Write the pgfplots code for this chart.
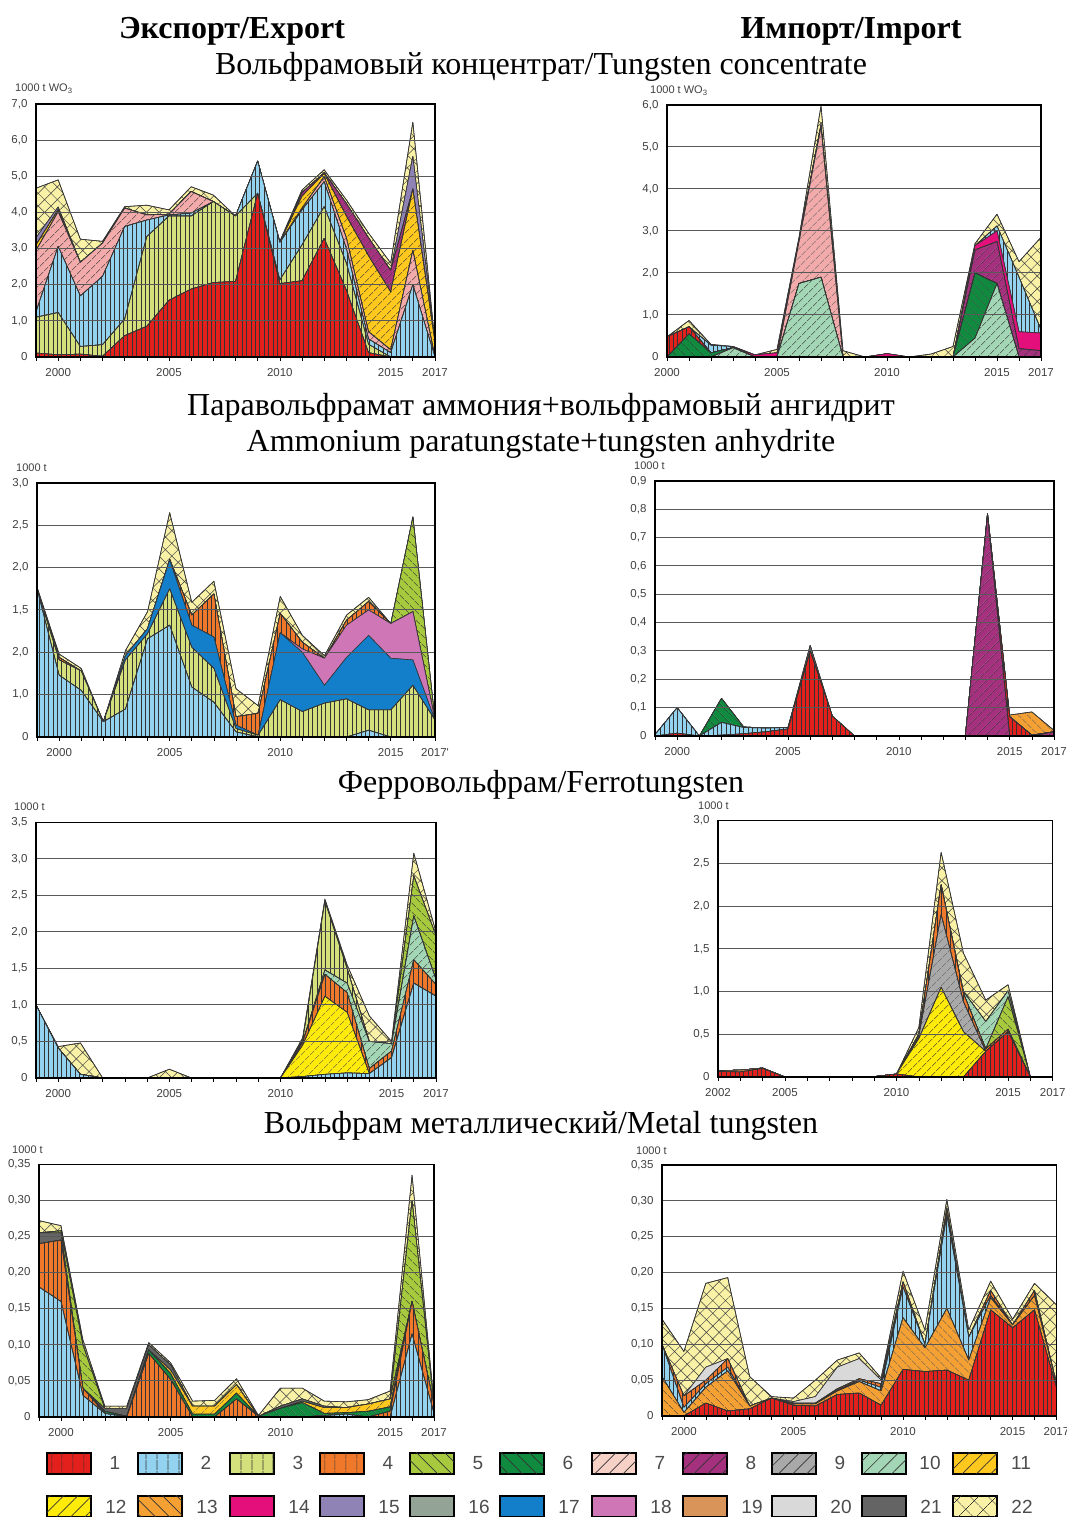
\documentclass[border=0pt]{standalone}
\usepackage{fontspec}
\setmainfont{Liberation Serif}
\newfontfamily\lsans{Liberation Sans}
\usepackage{pgfplots}
\pgfplotsset{compat=1.18}
\usepackage{pgfplotstable}
\usetikzlibrary{patterns.meta}

\definecolor{c1}{HTML}{E3201B}
\definecolor{c2}{HTML}{94D3F0}
\definecolor{c3}{HTML}{D4E07C}
\definecolor{c4}{HTML}{F0782A}
\definecolor{c5}{HTML}{A6C93E}
\definecolor{c6}{HTML}{0F8A3F}
\definecolor{c7}{HTML}{F2AAAA}
\definecolor{c8}{HTML}{A4307E}
\definecolor{c9}{HTML}{A9A9A9}
\definecolor{c10}{HTML}{A3D6B4}
\definecolor{c11}{HTML}{FFC81E}
\definecolor{c12}{HTML}{FFEB0A}
\definecolor{c13}{HTML}{F5A033}
\definecolor{c14}{HTML}{E40F7B}
\definecolor{c15}{HTML}{8F82B4}
\definecolor{c16}{HTML}{93A395}
\definecolor{c17}{HTML}{137FCA}
\definecolor{c18}{HTML}{CE76B6}
\definecolor{c19}{HTML}{D89459}
\definecolor{c20}{HTML}{D9D9D9}
\definecolor{c21}{HTML}{646464}
\definecolor{c22}{HTML}{F8F1A6}
\definecolor{c7l}{HTML}{F7D0C6}

\tikzset{
 pv/.style={postaction={pattern color=black!80, pattern={Lines[angle=90,distance=4.4pt,line width=0.5pt]}}},
 pne/.style={postaction={pattern color=black!80, pattern={Lines[angle=45,distance=6.5pt,line width=0.6pt]}}},
 pnw/.style={postaction={pattern color=black!80, pattern={Lines[angle=-45,distance=6.5pt,line width=0.6pt]}}},
 pxh/.style={postaction={pattern color=black!75, pattern={Hatch[angle=45,distance=9pt,line width=0.5pt]}}},
 s1/.style={fill=c1,pv}, s2/.style={fill=c2,pv}, s3/.style={fill=c3,pv}, s4/.style={fill=c4,pv},
 s5/.style={fill=c5,pnw}, s6/.style={fill=c6,pnw}, s7/.style={fill=c7,pne}, s8/.style={fill=c8,pne},
 s9/.style={fill=c9,pne}, s10/.style={fill=c10,pne}, s11/.style={fill=c11,pne}, s12/.style={fill=c12,pne},
 s13/.style={fill=c13,pnw}, s14/.style={fill=c14}, s15/.style={fill=c15}, s16/.style={fill=c16},
 s17/.style={fill=c17}, s18/.style={fill=c18}, s19/.style={fill=c19}, s20/.style={fill=c20},
 s21/.style={fill=c21}, s22/.style={fill=c22,pxh},
 ar/.style={draw=black!80, line width=0.6pt, line join=round},
 lv/.style={postaction={pattern color=black!80, pattern={Lines[angle=90,distance=10.5pt,line width=0.7pt]}}},
 lne/.style={postaction={pattern color=black!80, pattern={Lines[angle=45,distance=10pt,line width=0.7pt]}}},
 lnw/.style={postaction={pattern color=black!80, pattern={Lines[angle=-45,distance=10pt,line width=0.7pt]}}},
 lxh/.style={postaction={pattern color=black!80, pattern={Hatch[angle=45,distance=13pt,line width=0.7pt]}}},
 ln/.style={},
}

\newcommand\tickfont{\lsans\fontsize{11.5}{13}\selectfont}
\newcommand\unitfont{\lsans\fontsize{11}{12}\selectfont}
\newcommand\ap[3]{\addplot[ar,#1] table[x=yr,y=#2]{#3} \closedcycle;}

\pgfplotsset{panel/.style={scale only axis, anchor=south west, axis on top, stack plots=y,
  no markers, enlargelimits=false,
  axis line style={line width=1.5pt, black},
  ymajorgrids, major grid style={black!65, line width=1pt},
  tick style={black, line width=0.6pt}, ytick style={draw=none},
  xtick pos=bottom, tick align=outside, major tick length=4pt, minor tick length=4pt,
  ticklabel style={font=\tickfont, text=black!75},
  xticklabel style={yshift=-4pt},
  yticklabel style={xshift=-1pt}}}

% Panel 1: export concentrate
\pgfplotstableread{
yr r1 y3 b2 p7 g11 p8 l15 c22
1999 0.11 0.99 0.15 1.70 0.15 0 0.20 1.37
2000 0.06 1.17 1.83 0.96 0.06 0 0.07 0.75
2001 0.08 0.21 1.40 0.93 0 0 0 0.64
2002 0.02 0.32 1.89 0.92 0 0 0 0.05
2003 0.59 0.46 2.56 0.51 0 0 0 0.04
2004 0.85 2.48 0.46 0.14 0 0 0 0.27
2005 1.57 2.33 0.03 0.02 0 0 0 0.12
2006 1.88 2.02 0.08 0.60 0 0 0 0.13
2007 2.06 2.24 0 0 0 0 0 0.18
2008 2.09 1.81 0 0 0 0 0 0
2009 4.53 0 0.89 0 0 0 0 0
2010 2.03 0.10 1.04 0 0 0 0 0.03
2011 2.11 0.99 0.97 0.05 0.33 0.10 0 0.07
2012 3.28 0.88 0.69 0.14 0.09 0.02 0 0.08
2013 1.85 0.75 0.40 0.30 0.60 0.35 0 0.10
2014 0.12 0.23 0.15 0.20 2.10 0.50 0 0.13
2015 0 0 0.12 0.08 1.60 0.60 0 0.20
2016 0 0 2.00 0.95 1.70 0 0.90 0.95
2017 0 0 0 0 0.40 0 0 0
}\tA

% Panel 2: import concentrate
\pgfplotstableread{
yr g10 g6 r1 p7 p8 m14 b2 c22
2000 0 0 0.48 0 0 0 0 0
2001 0 0.55 0.17 0 0 0 0 0.15
2002 0 0.10 0 0 0 0 0.18 0.02
2003 0.22 0 0 0 0 0 0.03 0
2004 0 0 0 0 0 0.05 0 0
2005 0 0 0 0 0 0.10 0 0.08
2006 1.75 0 0 1.00 0 0.05 0 0.05
2007 1.90 0 0 3.58 0 0.05 0 0.45
2008 0 0 0 0 0 0 0 0.15
2009 0 0 0 0 0 0 0 0
2010 0 0 0 0 0 0.08 0 0
2011 0 0 0 0 0 0 0 0
2012 0 0 0 0 0 0 0 0.07
2013 0 0 0 0 0 0 0 0.25
2014 0.45 1.55 0 0 0.55 0.10 0 0.05
2015 1.75 0 0 0 1.00 0.25 0.12 0.28
2016 0 0 0 0 0.20 0.40 1.30 0.37
2017 0 0 0 0 0.15 0.42 0.08 2.20
}\tB

% Panel 3: export APT
\pgfplotstableread{
yr b2 y3 b17 p18 o4 g5 c22
1999 1.75 0 0 0 0.01 0 0.01
2000 0.73 0.18 0 0 0.03 0 0.04
2001 0.55 0.23 0 0 0 0 0.03
2002 0.18 0 0 0 0 0 0
2003 0.33 0.58 0.05 0 0 0 0.06
2004 1.16 0.06 0.06 0 0 0 0.20
2005 1.32 0.43 0.34 0 0.01 0 0.55
2006 0.59 0.47 0.26 0 0.12 0 0.15
2007 0.41 0.40 0.37 0 0.51 0 0.15
2008 0.06 0.04 0.04 0 0.10 0 0.33
2009 0 0.02 0 0 0.26 0 0.09
2010 0 0.44 0.79 0 0.23 0 0.20
2011 0 0.30 0.70 0.04 0.08 0 0.08
2012 0 0.40 0.21 0.32 0 0 0.03
2013 0 0.45 0.49 0.38 0.06 0 0.06
2014 0.08 0.24 0.88 0.30 0.10 0 0.05
2015 0 0.32 0.61 0.41 0 0 0
2016 0 0.61 0.30 0.57 0 1.12 0
2017 0 0.20 0 0 0 0 0
}\tC

% Panel 4: import APT
\pgfplotstableread{
yr p8 r1 b2 g6 d21 o13
1999 0 0 0.005 0 0 0
2000 0 0.01 0.09 0 0 0
2001 0 0 0 0 0 0
2002 0 0.003 0.045 0.085 0 0
2003 0 0.008 0.022 0.002 0 0
2004 0 0.015 0.013 0 0 0
2005 0 0.025 0.005 0 0 0
2006 0 0.30 0 0 0.02 0
2007 0 0.07 0 0 0 0
2008 0 0 0 0 0 0
2009 0 0 0 0 0 0
2010 0 0 0 0 0 0
2011 0 0 0 0 0 0
2012 0 0 0 0 0 0
2013 0 0 0 0 0 0
2014 0.78 0.005 0 0 0 0
2015 0 0.068 0 0 0 0.006
2016 0 0.003 0 0 0 0.082
2017 0.015 0 0 0 0 0.005
}\tD

% Panel 5: export ferrotungsten
\pgfplotstableread{
yr b2 y12 o4 g10 y3 g5 c22
1999 1.00 0 0 0 0 0 0
2000 0.41 0 0 0 0 0 0.02
2001 0.05 0 0 0 0 0 0.43
2002 0 0 0 0 0 0 0
2003 0 0 0 0 0 0 0
2004 0 0 0 0 0 0 0
2005 0 0 0 0 0 0 0.12
2006 0 0 0 0 0 0 0
2007 0 0 0 0 0 0 0
2008 0 0 0 0 0 0 0
2009 0 0 0 0 0 0 0
2010 0 0 0 0 0 0 0
2011 0.02 0.43 0.04 0 0.03 0 0.03
2012 0.05 1.07 0.30 0.06 0.94 0 0.03
2013 0.07 0.83 0.27 0.13 0.20 0 0.05
2014 0.06 0 0.07 0.37 0 0 0.35
2015 0.28 0 0.09 0.10 0 0 0.03
2016 1.30 0 0.32 0.60 0 0.55 0.31
2017 1.12 0 0.16 0.07 0 0.60 0.05
}\tE

% Panel 6: import ferrotungsten
\pgfplotstableread{
yr r1 t19 y12 g9 o4 g5 g10 c22
2002 0.065 0.01 0 0 0 0 0 0
2003 0.06 0.02 0 0 0 0 0 0
2004 0.10 0.005 0 0 0 0 0 0
2005 0 0 0 0 0 0 0 0
2006 0 0 0 0 0 0 0 0
2007 0 0 0 0 0 0 0 0
2008 0 0 0 0 0 0 0 0
2009 0.005 0 0 0 0 0 0 0
2010 0.035 0 0 0 0 0 0 0
2011 0 0 0.45 0.03 0.02 0 0 0.08
2012 0 0 1.05 0.85 0.35 0 0 0.38
2013 0 0 0.53 0.35 0.10 0 0.02 0.45
2014 0.30 0 0 0 0.03 0 0.32 0.25
2015 0.53 0 0 0 0.03 0.38 0.07 0.07
2016 0 0 0 0 0 0 0 0
2017 0 0 0 0 0 0 0 0
}\tF

% Panel 7: export metal
\pgfplotstableread{
yr b2 o4 g6 y11 d21 g5 c22
1999 0.18 0.06 0 0 0.015 0 0.017
2000 0.16 0.085 0 0 0.01 0.003 0.007
2001 0.03 0.01 0 0 0 0.06 0.007
2002 0.005 0 0.003 0 0.004 0 0.003
2003 0 0 0.001 0 0.011 0 0.003
2004 0 0.088 0.005 0 0.007 0 0.003
2005 0 0.052 0.008 0.005 0.007 0 0.003
2006 0 0 0.004 0.011 0 0 0.007
2007 0 0 0.004 0.011 0 0 0.008
2008 0 0.025 0.008 0.012 0 0 0.008
2009 0 0.001 0 0 0 0 0.001
2010 0 0 0.012 0 0.003 0 0.025
2011 0 0 0.02 0.002 0.003 0 0.015
2012 0.002 0 0.003 0.008 0.002 0 0.007
2013 0.004 0 0.002 0.007 0 0 0.008
2014 0 0 0.008 0.01 0 0 0.006
2015 0 0.008 0.006 0.011 0 0 0.011
2016 0.115 0.045 0 0 0 0.14 0.035
2017 0.005 0.012 0 0 0 0 0.003
}\tG

% Panel 8: import metal
\pgfplotstableread{
yr r1 o13 b2 o4 g20 c22
1999 0 0.055 0.045 0 0 0.035
2000 0 0.005 0.007 0.016 0 0.062
2001 0.018 0.022 0.005 0.005 0.018 0.117
2002 0.007 0.056 0.005 0.012 0 0.113
2003 0.01 0.004 0 0 0 0.041
2004 0.025 0 0 0 0 0.002
2005 0.015 0.002 0.001 0 0.002 0.005
2006 0.014 0.003 0.001 0 0.009 0.023
2007 0.03 0.005 0.001 0.002 0.03 0.010
2008 0.032 0.016 0.002 0.002 0.028 0.008
2009 0.015 0.02 0.005 0.005 0.005 0.003
2010 0.065 0.072 0.043 0.007 0 0.015
2011 0.062 0.033 0.005 0 0 0.02
2012 0.064 0.086 0.13 0.01 0 0.012
2013 0.05 0.028 0.032 0 0 0.01
2014 0.148 0.017 0.003 0.007 0 0.013
2015 0.123 0.004 0 0 0 0.008
2016 0.148 0.02 0 0.007 0 0.01
2017 0.04 0.005 0 0 0 0.11
}\tH

\begin{document}
\begin{tikzpicture}[x=1pt,y=1pt]
\path[use as bounding box] (0pt,0pt) rectangle (1067pt,1517pt);

% titles
\node[font=\bfseries\fontsize{32}{34}\selectfont, anchor=base] at (232pt,1478pt) {Экспорт/Export};
\node[font=\bfseries\fontsize{32}{34}\selectfont, anchor=base] at (851pt,1478pt) {Импорт/Import};
\node[font=\fontsize{32}{34}\selectfont, anchor=base] at (541pt,1442pt) {Вольфрамовый концентрат/Tungsten concentrate};
\node[font=\fontsize{32}{34}\selectfont, anchor=base] at (541pt,1101pt) {Паравольфрамат аммония+вольфрамовый ангидрит};
\node[font=\fontsize{32}{34}\selectfont, anchor=base] at (541pt,1065pt) {Ammonium paratungstate+tungsten anhydrite};
\node[font=\fontsize{32}{34}\selectfont, anchor=base] at (541pt,724pt) {Ферровольфрам/Ferrotungsten};
\node[font=\fontsize{32}{34}\selectfont, anchor=base] at (541pt,383pt) {Вольфрам металлический/Metal tungsten};

% unit labels
\node[font=\unitfont, text=black!75, anchor=west, inner sep=0pt] at (15pt,1428pt) {1000 t WO\textsubscript{3}};
\node[font=\unitfont, text=black!75, anchor=west, inner sep=0pt] at (650pt,1426pt) {1000 t WO\textsubscript{3}};
\node[font=\unitfont, text=black!75, anchor=west, inner sep=0pt] at (16pt,1049pt) {1000 t};
\node[font=\unitfont, text=black!75, anchor=west, inner sep=0pt] at (634pt,1051pt) {1000 t};
\node[font=\unitfont, text=black!75, anchor=west, inner sep=0pt] at (14pt,710pt) {1000 t};
\node[font=\unitfont, text=black!75, anchor=west, inner sep=0pt] at (698pt,711pt) {1000 t};
\node[font=\unitfont, text=black!75, anchor=west, inner sep=0pt] at (12pt,367pt) {1000 t};
\node[font=\unitfont, text=black!75, anchor=west, inner sep=0pt] at (636pt,366pt) {1000 t};

% Panel 1
\begin{axis}[panel, at={(36pt,1160pt)}, width=399pt, height=253pt,
  xmin=1999, xmax=2017, ymin=0, ymax=7,
  xtick={2000,2005,2010,2015,2017}, xticklabels={2000,2005,2010,2015,2017},
  minor xtick={1999,...,2017},
  ytick={0,1,...,7}, yticklabels={0,{1,0},{2,0},{3,0},{4,0},{5,0},{6,0},{7,0}}]
\ap{s1}{r1}{\tA}
\ap{s3}{y3}{\tA}
\ap{s2}{b2}{\tA}
\ap{s7}{p7}{\tA}
\ap{s11}{g11}{\tA}
\ap{s8}{p8}{\tA}
\ap{s15}{l15}{\tA}
\ap{s22}{c22}{\tA}
\end{axis}

% Panel 2
\begin{axis}[panel, at={(667pt,1160pt)}, width=374pt, height=252pt,
  xmin=2000, xmax=2017, ymin=0, ymax=6,
  xtick={2000,2005,2010,2015,2017}, xticklabels={2000,2005,2010,2015,2017},
  minor xtick={2000,...,2017},
  ytick={0,1,...,6}, yticklabels={0,{1,0},{2,0},{3,0},{4,0},{5,0},{6,0}}]
\ap{s10}{g10}{\tB}
\ap{s6}{g6}{\tB}
\ap{s1}{r1}{\tB}
\ap{s7}{p7}{\tB}
\ap{s8}{p8}{\tB}
\ap{s14}{m14}{\tB}
\ap{s2}{b2}{\tB}
\ap{s22}{c22}{\tB}
\end{axis}

% Panel 3
\begin{axis}[panel, at={(37pt,780pt)}, width=398pt, height=254pt,
  xmin=1999, xmax=2017, ymin=0, ymax=3,
  xtick={2000,2005,2010,2015,2017}, xticklabels={2000,2005,2010,2015,2017'},
  minor xtick={1999,...,2017},
  ytick={0,0.5,1,1.5,2,2.5,3}, yticklabels={0,{1,0},{2,0},{1,5},{2,0},{2,5},{3,0}}]
\ap{s2}{b2}{\tC}
\ap{s3}{y3}{\tC}
\ap{s17}{b17}{\tC}
\ap{s18}{p18}{\tC}
\ap{s4}{o4}{\tC}
\ap{s5}{g5}{\tC}
\ap{s22}{c22}{\tC}
\end{axis}

% Panel 4
\begin{axis}[panel, at={(655pt,781pt)}, width=399pt, height=255pt,
  xmin=1999, xmax=2017, ymin=0, ymax=0.9,
  xtick={2000,2005,2010,2015,2017}, xticklabels={2000,2005,2010,2015,2017},
  minor xtick={1999,...,2017},
  ytick={0,0.1,0.2,0.3,0.4,0.5,0.6,0.7,0.8,0.9}, yticklabels={0,{0,1},{0,2},{0,3},{0,4},{0,5},{0,6},{0,7},{0,8},{0,9}}]
\ap{s8}{p8}{\tD}
\ap{s1}{r1}{\tD}
\ap{s2}{b2}{\tD}
\ap{s6}{g6}{\tD}
\ap{s21}{d21}{\tD}
\ap{s13}{o13}{\tD}
\end{axis}

% Panel 5
\begin{axis}[panel, at={(36pt,439pt)}, width=400pt, height=255.5pt,
  xmin=1999, xmax=2017, ymin=0, ymax=3.5,
  xtick={2000,2005,2010,2015,2017}, xticklabels={2000,2005,2010,2015,2017},
  minor xtick={1999,...,2017},
  ytick={0,0.5,1,1.5,2,2.5,3,3.5}, yticklabels={0,{0,5},{1,0},{1,5},{2,0},{2,5},{3,0},{3,5}}]
\ap{s2}{b2}{\tE}
\ap{s12}{y12}{\tE}
\ap{s4}{o4}{\tE}
\ap{s10}{g10}{\tE}
\ap{s3}{y3}{\tE}
\ap{s5}{g5}{\tE}
\ap{s22}{c22}{\tE}
\end{axis}

% Panel 6
\begin{axis}[panel, at={(718pt,440pt)}, width=334.7pt, height=256.3pt,
  xmin=2002, xmax=2017, ymin=0, ymax=3,
  xtick={2002,2005,2010,2015,2017}, xticklabels={2002,2005,2010,2015,2017},
  minor xtick={2002,...,2017},
  ytick={0,0.5,1,1.5,2,2.5,3}, yticklabels={0,{0,5},{1,0},{1,5},{2,0},{2,5},{3,0}}]
\ap{s1}{r1}{\tF}
\ap{s19}{t19}{\tF}
\ap{s12}{y12}{\tF}
\ap{s9}{g9}{\tF}
\ap{s4}{o4}{\tF}
\ap{s5}{g5}{\tF}
\ap{s10}{g10}{\tF}
\ap{s22}{c22}{\tF}
\end{axis}

% Panel 7
\begin{axis}[panel, at={(39pt,100pt)}, width=395pt, height=252.7pt,
  xmin=1999, xmax=2017, ymin=0, ymax=0.35,
  xtick={2000,2005,2010,2015,2017}, xticklabels={2000,2005,2010,2015,2017},
  minor xtick={1999,...,2017},
  ytick={0,0.05,0.1,0.15,0.2,0.25,0.3,0.35}, yticklabels={0,{0,05},{0,10},{0,15},{0,20},{0,25},{0,30},{0,35}}]
\ap{s2}{b2}{\tG}
\ap{s4}{o4}{\tG}
\ap{s6}{g6}{\tG}
\ap{s11}{y11}{\tG}
\ap{s21}{d21}{\tG}
\ap{s5}{g5}{\tG}
\ap{s22}{c22}{\tG}
\end{axis}

% Panel 8
\begin{axis}[panel, at={(662pt,101pt)}, width=394.4pt, height=251pt,
  xmin=1999, xmax=2017, ymin=0, ymax=0.35,
  xtick={2000,2005,2010,2015,2017}, xticklabels={2000,2005,2010,2015,2017},
  minor xtick={1999,...,2017},
  ytick={0,0.05,0.1,0.15,0.2,0.25,0.3,0.35}, yticklabels={0,{0,05},{0,10},{0,15},{0,20},{0,25},{0,30},{0,35}}]
\ap{s1}{r1}{\tH}
\ap{s13}{o13}{\tH}
\ap{s2}{b2}{\tH}
\ap{s4}{o4}{\tH}
\ap{s20}{g20}{\tH}
\ap{s22}{c22}{\tH}
\end{axis}

% legend
\foreach \x/\c/\p/\l in {47/c1/lv/1,138/c2/lv/2,230/c3/lv/3,320/c4/lv/4,410/c5/lnw/5,500/c6/lnw/6,592/c7l/lne/7,683/c8/lne/8,772/c9/lne/9,862/c10/lne/10,953/c11/lne/11}{
  \draw[line width=1.8pt, fill=\c, \p] (\x pt,43pt) rectangle ++(44pt,21pt);
  \node[font=\lsans\fontsize{19}{20}\selectfont, text=black!70, xshift=68pt] at (\x pt,54pt) {\l};
}
\foreach \x/\c/\p/\l in {47/c12/lne/12,138/c13/lnw/13,230/c14/ln/14,320/c15/ln/15,410/c16/ln/16,500/c17/ln/17,592/c18/ln/18,683/c19/ln/19,772/c20/ln/20,862/c21/ln/21,953/c22/lxh/22}{
  \draw[line width=1.8pt, fill=\c, \p] (\x pt,0pt) rectangle ++(44pt,21pt);
  \node[font=\lsans\fontsize{19}{20}\selectfont, text=black!70, xshift=69pt] at (\x pt,10pt) {\l};
}
\end{tikzpicture}
\end{document}
